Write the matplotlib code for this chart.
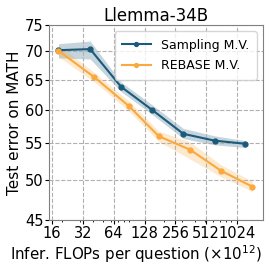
import matplotlib
matplotlib.use("Agg")
import matplotlib.pyplot as plt
import numpy as np
from matplotlib.ticker import FixedLocator, NullLocator, NullFormatter, LogLocator

samp_x = [18.5, 37.7, 75.4, 153, 306, 617, 1232]
samp_y = [70.2, 70.4, 63.8, 60.0, 56.4, 55.4, 54.95]
samp_lo = [68.8, 68.6, 63.0, 59.3, 55.7, 54.8, 54.4]
samp_hi = [71.4, 71.9, 64.6, 60.8, 57.2, 56.1, 55.4]

reb_x = [18.5, 41.5, 90.7, 176, 356, 715, 1448]
reb_y = [70.1, 65.4, 60.6, 56.05, 54.1, 51.2, 49.1]
reb_lo = [69.0, 64.6, 59.8, 55.3, 52.8, 50.4, 48.5]
reb_hi = [71.2, 66.2, 61.4, 56.8, 55.2, 52.0, 49.8]

xticks = [16, 32, 64, 128, 256, 512, 1024]
yticks = [45, 50, 55, 60, 65, 70, 75]

blue = "#1b5a7a"
orange = "#f9a93f"

fig = plt.figure(figsize=(2.71, 2.71), dpi=100)
ax = fig.add_axes([0.181, 0.188, 0.789, 0.72])

ax.fill_between(samp_x, samp_lo, samp_hi, color=blue, alpha=0.25, linewidth=0)
ax.fill_between(reb_x, reb_lo, reb_hi, color=orange, alpha=0.25, linewidth=0)
ax.plot(samp_x, samp_y, color=blue, marker="o", markersize=3.5, linewidth=1.5, label="Sampling M.V.")
ax.plot(reb_x, reb_y, color=orange, marker="o", markersize=3.5, linewidth=1.5, label="REBASE M.V.")

ax.set_xscale("log")
ax.set_yscale("log")
ax.set_xlim(14.96, 1830)
ax.set_ylim(45, 75)
ax.xaxis.set_major_locator(FixedLocator(xticks))
ax.xaxis.set_minor_locator(LogLocator(base=10, subs=np.arange(2, 10)))
ax.xaxis.set_minor_formatter(NullFormatter())
ax.set_xticklabels([str(v) for v in xticks])
ax.yaxis.set_major_locator(FixedLocator(yticks))
ax.yaxis.set_minor_locator(NullLocator())
ax.yaxis.set_minor_formatter(NullFormatter())
ax.set_yticklabels([str(v) for v in yticks])
ax.tick_params(labelsize=10.5, length=3, pad=1)
ax.tick_params(which="minor", length=1.5)

ax.grid(True, which="major", linestyle="--", color="#b0b0b0", linewidth=0.8)
for s in ax.spines.values():
    s.set_color("#808080")

ax.set_title("Llemma-34B", fontsize=12, pad=3)
ax.set_xlabel("Infer. FLOPs per question (×10$^{12}$)", fontsize=10.8)
ax.xaxis.set_label_coords(0.405, -0.12)
ax.set_ylabel("Test error on MATH", fontsize=11, labelpad=2)
ax.legend(loc="upper right", fontsize=9, frameon=True, handlelength=2.3,
          borderpad=0.6, labelspacing=0.6, markerscale=0.8)

fig.savefig("out.png", dpi=100)
